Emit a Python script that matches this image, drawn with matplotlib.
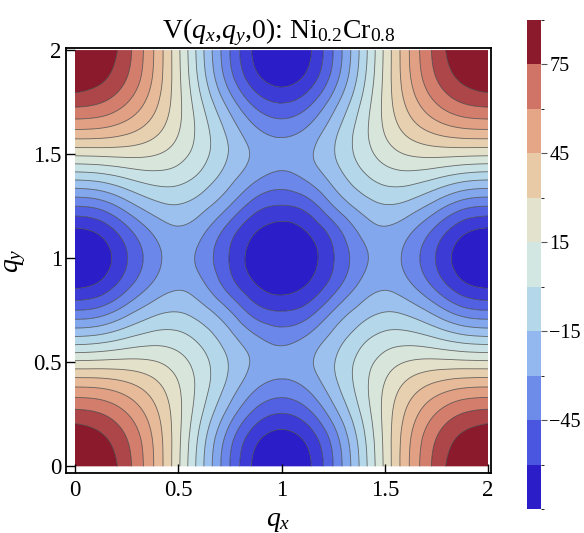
import numpy as np
import matplotlib
matplotlib.use("Agg")
import matplotlib.pyplot as plt
import matplotlib.tri as mtri
from matplotlib.colors import LinearSegmentedColormap, ListedColormap, BoundaryNorm, Normalize
from matplotlib.cm import ScalarMappable

plt.rcParams['font.family'] = ['Liberation Serif', 'DejaVu Serif']
plt.rcParams['mathtext.fontset'] = 'custom'
plt.rcParams['mathtext.rm'] = 'Liberation Serif'
plt.rcParams['mathtext.it'] = 'Liberation Serif:italic'
plt.rcParams['mathtext.bf'] = 'Liberation Serif:bold'

# ---- data: V(qx,qy,0) read on the quarter cell q in [0,1]x[0,1] (step 0.125)
# rows: qy = 0 ... 1, columns: qx = 0 ... 1
q_quarter = [0.0, 0.125, 0.25, 0.375, 0.5, 0.625, 0.75, 0.875, 1.0]
V_quarter = [
    [ 92.4,  87.6,  73.3,  50.1,  19.9, -13.4, -44.0, -67.5, -75.0],
    [ 87.6,  82.5,  70.0,  48.8,  20.5, -11.0, -40.5, -62.5, -70.0],
    [ 73.3,  70.0,  59.8,  43.3,  21.0,  -4.5, -28.7, -48.0, -55.0],
    [ 50.1,  48.8,  43.3,  33.6,  19.0,   0.7, -17.7, -33.0, -38.5],
    [ 19.9,  20.5,  21.0,  19.0,  12.0,   0.0, -14.1, -25.6, -30.0],
    [-13.4, -11.0,  -4.5,   0.7,   0.0,  -8.1, -20.7, -33.0, -38.5],
    [-44.0, -40.5, -28.7, -17.7, -14.1, -20.7, -34.1, -50.0, -55.0],
    [-67.5, -62.5, -48.0, -33.0, -25.6, -33.0, -50.0, -64.5, -70.0],
    [-75.0, -70.0, -55.0, -38.5, -30.0, -38.5, -55.0, -70.0, -75.0],
]

# contour levels of the plot (16 bands between -75 and 90)
v_min, v_max, n_bands = -75.0, 90.0, 16

# colour bar (legend)
cbar_bounds = [-75, -60, -45, -30, -15, 0, 15, 30, 45, 60, 75, 90]
cbar_colors = ['#2b1ec8', '#4a55e0', '#6d8cea', '#92b8ef', '#b4d8ea', '#d2e7e2',
               '#e3e2cc', '#e9caa7', '#e4a687', '#cf7467', '#8a1a2c']
cbar_ticks = [-45, -15, 15, 45, 75]

# ---- build full [0,2]x[0,2] field by mirror symmetry of the quarter cell
q = np.array(q_quarter)
Q = np.array(V_quarter)
F = np.concatenate([Q, Q[:, -2::-1]], axis=1)
F = np.concatenate([F, F[-2::-1, :]], axis=0)
qf = np.concatenate([q, 2 - q[-2::-1]])
X, Y = np.meshgrid(qf, qf)
n = len(qf)
tris = []
for j in range(n - 1):
    for i in range(n - 1):
        a = j * n + i
        b = a + 1
        c = a + n
        d = c + 1
        tris.append([a, b, d])
        tris.append([a, d, c])
tri = mtri.Triangulation(X.ravel(), Y.ravel(), np.array(tris))
z = F.ravel()
interp = mtri.CubicTriInterpolator(tri, z, kind='min_E')
refiner = mtri.UniformTriRefiner(tri)
tri_f, z_f = refiner.refine_field(z, triinterpolator=interp, subdiv=4)

# colormap built from the colour-bar colours
centers_cb = [(cbar_bounds[k] + cbar_bounds[k + 1]) / 2 for k in range(len(cbar_colors))]
pos = [(c - v_min) / (v_max - v_min) for c in centers_cb]
anchors = [(0.0, cbar_colors[0])] + list(zip(pos, cbar_colors)) + [(1.0, cbar_colors[-1])]
cmap = LinearSegmentedColormap.from_list('thermo', anchors)
norm = Normalize(v_min, v_max)

levels = np.linspace(v_min, v_max, n_bands + 1)
band_centers = (levels[:-1] + levels[1:]) / 2
band_colors = [cmap(norm(c)) for c in band_centers]
fill_levels = levels.copy()
fill_levels[0] = -1000
fill_levels[-1] = 1000

fig = plt.figure(figsize=(5.84, 5.33), dpi=100)
ax = fig.add_axes([66 / 584, 60 / 533, 425 / 584, 425 / 533])
ax.tricontourf(tri_f, z_f, levels=fill_levels, colors=band_colors, antialiased=True)
ax.tricontour(tri_f, z_f, levels=levels[1:-1], colors='#3a3a3a', linewidths=0.6,
              alpha=0.75, linestyles='solid')

ax.set_xlim(-0.0436, 2.0145)
ax.set_ylim(-0.032, 2.01)
ticks = [0, 0.5, 1, 1.5, 2]
ax.set_xticks(ticks)
ax.set_yticks(ticks)
ax.set_xticklabels(['0', '0.5', '1', '1.5', '2'])
ax.set_yticklabels(['0', '0.5', '1', '1.5', '2'])
ax.tick_params(direction='in', length=6.5, width=1.0, labelsize=16.5, pad=5,
               top=False, right=False)
ax.tick_params(axis='y', pad=3)
for s in ax.spines.values():
    s.set_linewidth(1.3)

ax.set_title(r'V($q_x$,$q_y$,0): Ni$_{\mathrm{0.2}}$Cr$_{\mathrm{0.8}}$', fontsize=20, pad=7)
ax.set_xlabel(r'$q_x$', fontsize=20)
ax.set_ylabel(r'$q_y$', fontsize=20)
ax.xaxis.set_label_coords(0.5, -0.084)
ax.yaxis.set_label_coords(-0.09, 0.5)

# colour bar
cax = fig.add_axes([527 / 584, 24 / 533, 14 / 584, 489 / 533])
cb_cmap = ListedColormap(cbar_colors)
cb_norm = BoundaryNorm(cbar_bounds, cb_cmap.N)
cb = fig.colorbar(ScalarMappable(norm=cb_norm, cmap=cb_cmap), cax=cax, ticks=cbar_ticks)
cb.outline.set_visible(False)
cb.ax.tick_params(length=4, width=0.8, labelsize=14.5, pad=2, color='#555555')
cb.ax.set_yticklabels([str(t).replace('-', '\u2212') for t in cbar_ticks])

fig.savefig('out.png', dpi=100)
